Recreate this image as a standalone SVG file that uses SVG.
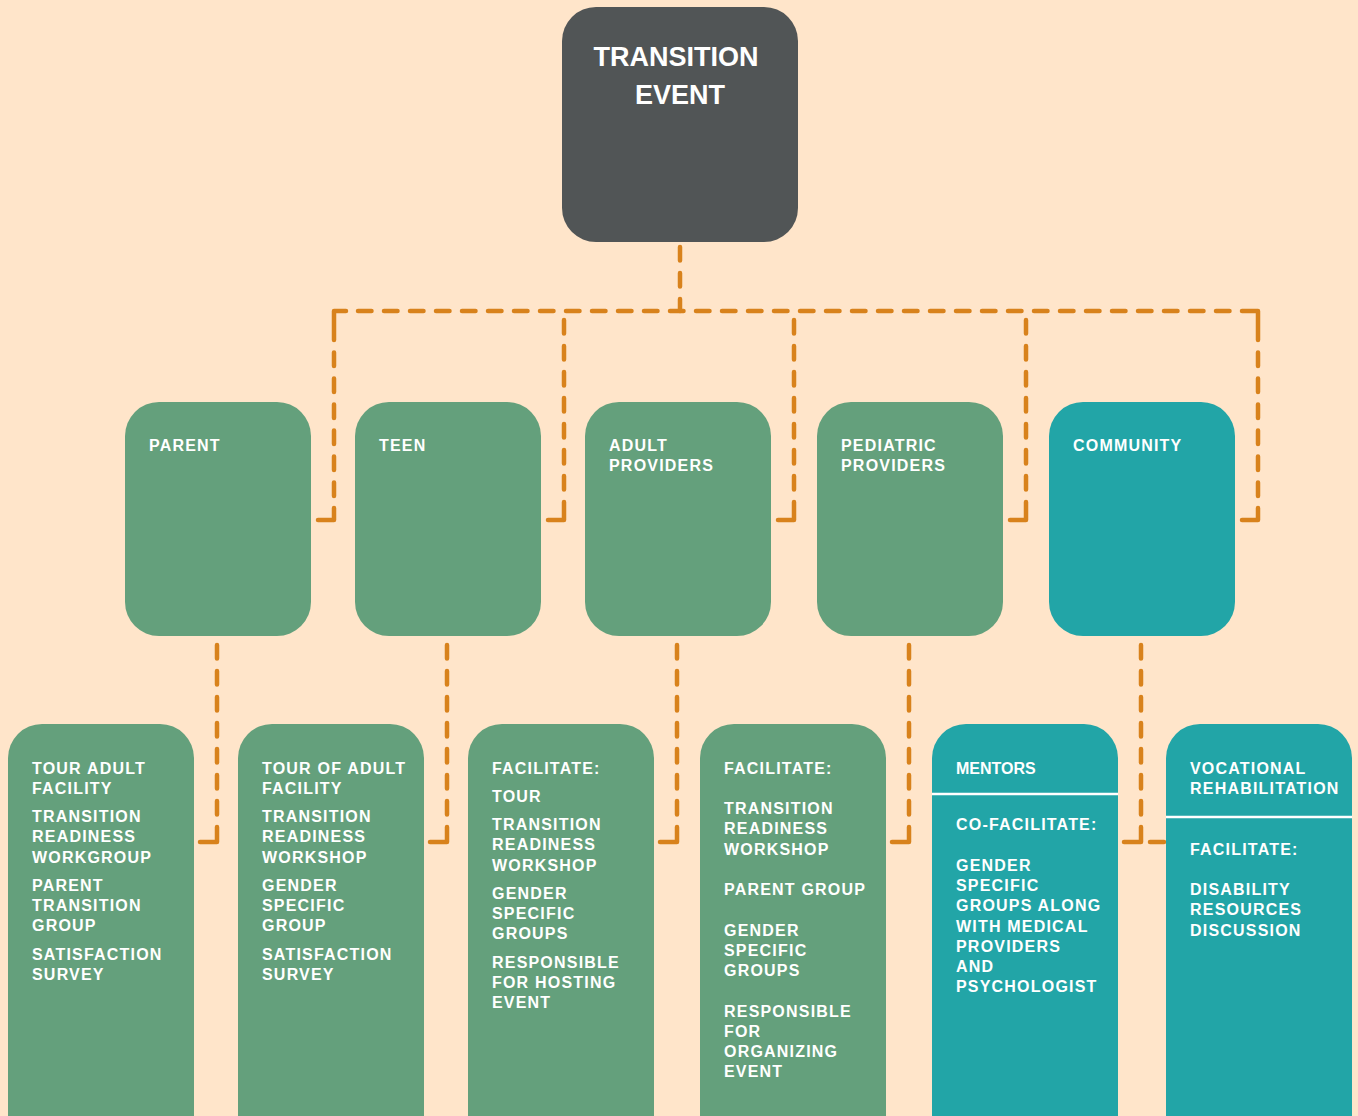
<svg xmlns="http://www.w3.org/2000/svg" width="1358" height="1116" viewBox="0 0 1358 1116">
<style>
.bg{fill:#FFE5CA}
.dark{fill:#515556}
.green{fill:#64A07C}
.teal{fill:#22A5A7}
.t{font-family:"Liberation Sans",Arial,sans-serif;font-weight:bold;font-size:16px;letter-spacing:1.2px;fill:#FFFFFF}
.ns{letter-spacing:0px}
.title{font-family:"Liberation Sans",Arial,sans-serif;font-weight:bold;font-size:27px;fill:#FFFFFF;text-anchor:middle}
.c{fill:none;stroke:#D8821C;stroke-width:4.5;stroke-linecap:round;stroke-linejoin:round;stroke-dasharray:13.5 12.5}
.s{fill:none;stroke:#D8821C;stroke-width:4.5;stroke-linecap:round;stroke-linejoin:round}
.div{stroke:#FFFFFF;stroke-width:2.5}
</style>
<rect class="bg" x="0" y="0" width="1358" height="1116"/>

<g id="connectors">
<path class="c" d="M680 247 V286.5"/>
<path class="s" d="M680 299 V311"/>
<path class="c" d="M358 311 H1229.5"/>
<path class="s" d="M346 311 H334 V340"/>
<path class="c" d="M334 352.5 V496"/>
<path class="s" d="M334 508 V520 H318"/>
<path class="s" d="M1242 311 H1258 V340"/>
<path class="c" d="M1258 352.5 V496"/>
<path class="s" d="M1258 508 V520 H1242"/>
<path class="c" d="M564 320 V489.5"/>
<path class="s" d="M564 502 V520 H548"/>
<path class="c" d="M794 320 V489.5"/>
<path class="s" d="M794 502 V520 H778"/>
<path class="c" d="M1026 320 V489.5"/>
<path class="s" d="M1026 502 V520 H1010"/>
<path class="c" d="M217 645 V814.5"/>
<path class="s" d="M217 827 V842 H200"/>
<path class="c" d="M447 645 V814.5"/>
<path class="s" d="M447 827 V842 H430"/>
<path class="c" d="M677 645 V814.5"/>
<path class="s" d="M677 827 V842 H660"/>
<path class="c" d="M909 645 V814.5"/>
<path class="s" d="M909 827 V842 H892"/>
<path class="c" d="M1141 645 V814.5"/>
<path class="s" d="M1141 827 V842 H1124"/>
<path class="s" d="M1150 842 H1164"/>
</g>

<g id="transition-event">
<rect class="dark" x="562" y="7" width="236" height="235" rx="34"/>
<text class="title" x="676" y="66">TRANSITION</text>
<text class="title" x="680" y="104">EVENT</text>
</g>

<g id="parent">
<rect class="green" x="125" y="402" width="186" height="234" rx="34"/>
<text class="t" x="149" y="451">PARENT</text>
</g>
<g id="teen">
<rect class="green" x="355" y="402" width="186" height="234" rx="34"/>
<text class="t" x="379" y="451">TEEN</text>
</g>
<g id="adult-providers">
<rect class="green" x="585" y="402" width="186" height="234" rx="34"/>
<text class="t" x="609" y="451">ADULT</text>
<text class="t" x="609" y="471">PROVIDERS</text>
</g>
<g id="pediatric-providers">
<rect class="green" x="817" y="402" width="186" height="234" rx="34"/>
<text class="t" x="841" y="451">PEDIATRIC</text>
<text class="t" x="841" y="471">PROVIDERS</text>
</g>
<g id="community">
<rect class="teal" x="1049" y="402" width="186" height="234" rx="34"/>
<text class="t" x="1073" y="451">COMMUNITY</text>
</g>

<g id="parent-activities">
<rect class="green" x="8" y="724" width="186" height="440" rx="34"/>
<text class="t" x="32" y="774">TOUR ADULT</text>
<text class="t" x="32" y="794">FACILITY</text>
<text class="t" x="32" y="822">TRANSITION</text>
<text class="t" x="32" y="842">READINESS</text>
<text class="t" x="32" y="863">WORKGROUP</text>
<text class="t" x="32" y="891">PARENT</text>
<text class="t" x="32" y="911">TRANSITION</text>
<text class="t" x="32" y="931">GROUP</text>
<text class="t" x="32" y="960">SATISFACTION</text>
<text class="t" x="32" y="980">SURVEY</text>
</g>

<g id="teen-activities">
<rect class="green" x="238" y="724" width="186" height="440" rx="34"/>
<text class="t" x="262" y="774">TOUR OF ADULT</text>
<text class="t" x="262" y="794">FACILITY</text>
<text class="t" x="262" y="822">TRANSITION</text>
<text class="t" x="262" y="842">READINESS</text>
<text class="t" x="262" y="863">WORKSHOP</text>
<text class="t" x="262" y="891">GENDER</text>
<text class="t" x="262" y="911">SPECIFIC</text>
<text class="t" x="262" y="931">GROUP</text>
<text class="t" x="262" y="960">SATISFACTION</text>
<text class="t" x="262" y="980">SURVEY</text>
</g>

<g id="adult-activities">
<rect class="green" x="468" y="724" width="186" height="440" rx="34"/>
<text class="t" x="492" y="774">FACILITATE:</text>
<text class="t" x="492" y="802">TOUR</text>
<text class="t" x="492" y="830">TRANSITION</text>
<text class="t" x="492" y="850">READINESS</text>
<text class="t" x="492" y="871">WORKSHOP</text>
<text class="t" x="492" y="899">GENDER</text>
<text class="t" x="492" y="919">SPECIFIC</text>
<text class="t" x="492" y="939">GROUPS</text>
<text class="t" x="492" y="968">RESPONSIBLE</text>
<text class="t" x="492" y="988">FOR HOSTING</text>
<text class="t" x="492" y="1008">EVENT</text>
</g>

<g id="pediatric-activities">
<rect class="green" x="700" y="724" width="186" height="440" rx="34"/>
<text class="t" x="724" y="774">FACILITATE:</text>
<text class="t" x="724" y="814">TRANSITION</text>
<text class="t" x="724" y="834">READINESS</text>
<text class="t" x="724" y="855">WORKSHOP</text>
<text class="t" x="724" y="895">PARENT GROUP</text>
<text class="t" x="724" y="936">GENDER</text>
<text class="t" x="724" y="956">SPECIFIC</text>
<text class="t" x="724" y="976">GROUPS</text>
<text class="t" x="724" y="1017">RESPONSIBLE</text>
<text class="t" x="724" y="1037">FOR</text>
<text class="t" x="724" y="1057">ORGANIZING</text>
<text class="t" x="724" y="1077">EVENT</text>
</g>

<g id="mentors">
<rect class="teal" x="932" y="724" width="186" height="440" rx="34"/>
<text class="t ns" x="956" y="774">MENTORS</text>
<line class="div" x1="932" y1="794" x2="1118" y2="794"/>
<text class="t" x="956" y="830">CO-FACILITATE:</text>
<text class="t" x="956" y="871">GENDER</text>
<text class="t" x="956" y="891">SPECIFIC</text>
<text class="t" x="956" y="911">GROUPS ALONG</text>
<text class="t" x="956" y="932">WITH MEDICAL</text>
<text class="t" x="956" y="952">PROVIDERS</text>
<text class="t" x="956" y="972">AND</text>
<text class="t" x="956" y="992">PSYCHOLOGIST</text>
</g>

<g id="vocational-rehabilitation">
<rect class="teal" x="1166" y="724" width="186" height="440" rx="34"/>
<text class="t" x="1190" y="774">VOCATIONAL</text>
<text class="t" x="1190" y="794">REHABILITATION</text>
<line class="div" x1="1166" y1="817" x2="1352" y2="817"/>
<text class="t" x="1190" y="855">FACILITATE:</text>
<text class="t" x="1190" y="895">DISABILITY</text>
<text class="t" x="1190" y="915">RESOURCES</text>
<text class="t" x="1190" y="936">DISCUSSION</text>
</g>
</svg>
